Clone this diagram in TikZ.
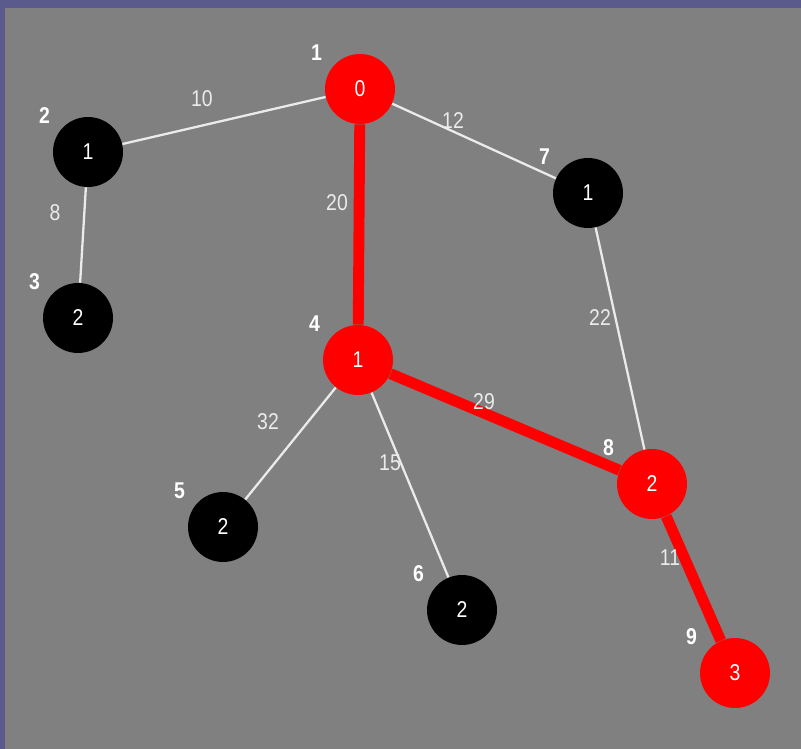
\documentclass[tikz,border=0pt]{standalone}
\usepackage{fontspec}
\newfontfamily\graphfont[FakeStretch=0.85]{Liberation Sans}
\definecolor{slate}{RGB}{90,90,140}
\definecolor{panelgray}{RGB}{128,128,128}
\definecolor{pathred}{RGB}{255,0,0}
\definecolor{edgewhite}{RGB}{235,235,235}
\begin{document}
\begin{tikzpicture}[x=0.02cm,y=-0.02cm,
  vtx/.style={circle,fill=black,minimum size=1.4cm,inner sep=0pt,text=white,
    font=\graphfont\fontsize{13}{15}\selectfont},
  hit/.style={vtx,fill=pathred},
  idlbl/.style={anchor=center,inner sep=0pt,text=white,xshift=-0.32cm,yshift=0.29cm,
    font=\graphfont\bfseries\fontsize{13}{15}\selectfont},
  num/.style={label={[idlbl]141:#1}},
  road/.style={edgewhite,line width=1.3pt},
  route/.style={pathred,line width=6.2pt},
  wt/.style={inner sep=0pt,text=edgewhite,font=\graphfont\fontsize{13}{15}\selectfont}]
\useasboundingbox (0,0) rectangle (801,749);
\fill[slate] (0,0) rectangle (801,749);
\fill[panelgray] (5,8) rectangle (801,749);

% vertices
\node[hit,num=1] (v1) at (360,89) {0};
\node[vtx,num=2] (v2) at (88,152) {1};
\node[vtx,num=3] (v3) at (78,318) {2};
\node[hit,num=4] (v4) at (358,360) {1};
\node[vtx,num=5] (v5) at (223,527) {2};
\node[vtx,num=6] (v6) at (462,610) {2};
\node[vtx,num=7] (v7) at (588,193) {1};
\node[hit,num=8] (v8) at (652,484) {2};
\node[hit,num=9] (v9) at (735,673) {3};

% edges
\draw[road] (v1) -- (v2);
\draw[road] (v2) -- (v3);
\draw[road] (v1) -- (v7);
\draw[route] (v1) -- (v4);
\draw[road] (v4) -- (v5);
\draw[road] (v4) -- (v6);
\draw[route] (v4) -- (v8);
\draw[road] (v7) -- (v8);
\draw[route] (v8) -- (v9);

% weights
\node[wt] (w12) at (202,99) {10};
\node[wt] (w17) at (453,121) {12};
\node[wt] (w23) at (55,213) {8};
\node[wt] (w14) at (337,203) {20};
\node[wt] (w78) at (600,318) {22};
\node[wt] (w45) at (268,422) {32};
\node[wt] (w46) at (390,463) {15};
\node[wt] (w48) at (484,402) {29};
\node[wt] (w89) at (670,558) {11};
\end{tikzpicture}
\end{document}
